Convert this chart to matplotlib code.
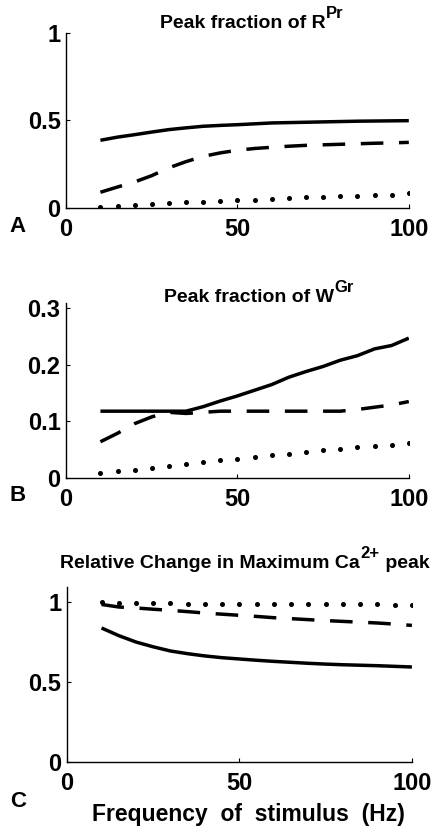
import numpy as np
import matplotlib
matplotlib.use("Agg")
import matplotlib.pyplot as plt

plt.rcParams['font.family'] = ['Liberation Sans', 'DejaVu Sans']
plt.rcParams['font.weight'] = 'bold'

# frequencia do estimulo (Hz)
freq = [10, 15, 20, 25, 30, 35, 40, 45, 50, 55, 60, 65, 70, 75, 80, 85, 90, 95, 100]

# painel A - fracao de pico de R^Pr
a_solid = [0.387, 0.405, 0.419, 0.434, 0.448, 0.458, 0.467, 0.472, 0.476, 0.481, 0.486,
           0.488, 0.490, 0.492, 0.494, 0.496, 0.497, 0.498, 0.499]
a_dash = [0.090, 0.120, 0.149, 0.185, 0.230, 0.265, 0.295, 0.315, 0.330, 0.340, 0.347,
          0.353, 0.358, 0.361, 0.364, 0.367, 0.370, 0.372, 0.375]
a_dot = [0.006, 0.013, 0.019, 0.023, 0.027, 0.032, 0.034, 0.038, 0.044, 0.046, 0.051,
         0.055, 0.061, 0.063, 0.069, 0.070, 0.076, 0.076, 0.084]

# painel B - fracao de pico de W^Gr
b_solid = [0.118, 0.118, 0.118, 0.118, 0.118, 0.118, 0.126, 0.136, 0.145, 0.155, 0.165,
           0.178, 0.188, 0.197, 0.208, 0.216, 0.228, 0.234, 0.247]
b_dash = [0.064, 0.079, 0.096, 0.108, 0.116, 0.114, 0.116, 0.118, 0.118, 0.118, 0.118,
          0.118, 0.118, 0.118, 0.118, 0.121, 0.125, 0.129, 0.135]
b_dot = [0.009, 0.012, 0.015, 0.018, 0.022, 0.025, 0.028, 0.031, 0.034, 0.037, 0.040,
         0.043, 0.046, 0.049, 0.051, 0.054, 0.056, 0.058, 0.061]

# painel C - mudanca relativa no pico maximo de Ca2+
c_solid = [0.838, 0.790, 0.750, 0.720, 0.694, 0.677, 0.663, 0.652, 0.644, 0.636, 0.629,
           0.623, 0.617, 0.612, 0.608, 0.605, 0.602, 0.598, 0.594]
c_dash = [0.985, 0.969, 0.963, 0.955, 0.948, 0.940, 0.931, 0.924, 0.917, 0.910, 0.902,
          0.896, 0.890, 0.884, 0.879, 0.874, 0.869, 0.862, 0.854]
c_dot = [1.000, 0.995, 0.993, 0.992, 0.991, 0.990, 0.990, 0.989, 0.989, 0.988, 0.988,
         0.987, 0.987, 0.986, 0.986, 0.985, 0.985, 0.984, 0.983]

paineis = [
    dict(rect=[0.150, 0.7485, 0.777, 0.2116], ys=(a_solid, a_dash, a_dot), ylim=(0, 1),
         yticks=[0, 0.5, 1], yticklabels=['0', '0.5', '1'],
         titulo='Peak fraction of R', sup='Pr', resto='', tx=0.274, ty=1.03,
         letra='A', ly=-0.14),
    dict(rect=[0.150, 0.422, 0.777, 0.2116], ys=(b_solid, b_dash, b_dot), ylim=(0, 0.309),
         yticks=[0, 0.1, 0.2, 0.3], yticklabels=['0', '0.1', '0.2', '0.3'],
         titulo='Peak fraction of W', sup='Gr', resto='', tx=0.286, ty=1.006,
         letra='B', ly=-0.13),
    dict(rect=[0.152, 0.0786, 0.782, 0.2116], ys=(c_solid, c_dash, c_dot), ylim=(0, 1.094),
         yticks=[0, 0.5, 1], yticklabels=['0', '0.5', '1'],
         titulo='Relative Change in Maximum Ca', sup='2+', resto=' peak', tx=-0.02, ty=1.109,
         letra='C', ly=-0.26),
]

fig = plt.figure(figsize=(4.41, 8.27), dpi=100)

for p in paineis:
    ax = fig.add_axes(p['rect'])
    solido, tracejado, pontilhado = p['ys']
    ax.plot(freq, solido, color='black', lw=2.5, solid_capstyle='butt')
    ax.plot(freq, tracejado, color='black', lw=2.5, dashes=(6.5, 4.5))
    ax.plot(freq, pontilhado, color='black', ls='none', marker='o', ms=2.6)
    ax.set_xlim(0, 100)
    ax.set_ylim(*p['ylim'])
    ax.set_xticks([0, 50, 100])
    ax.set_xticklabels(['0', '50', '100'])
    ax.set_yticks(p['yticks'])
    ax.set_yticklabels(p['yticklabels'])
    ax.spines['top'].set_visible(False)
    ax.spines['right'].set_visible(False)
    ax.spines['left'].set_linewidth(1.0)
    ax.spines['bottom'].set_linewidth(1.0)
    ax.tick_params(direction='in', length=3, width=0.8, labelsize=17, pad=4)
    ax.tick_params(axis='x', pad=7)
    for lbl in ax.get_xticklabels() + ax.get_yticklabels():
        lbl.set_fontweight('bold')
    # titulo em tres partes: texto, expoente e o resto
    t = ax.text(p['tx'], p['ty'], p['titulo'], transform=ax.transAxes, ha='left',
                va='baseline', fontsize=14, fontweight='bold')
    s = ax.annotate(p['sup'], xy=(1, 0), xycoords=t, xytext=(0.5, 8),
                    textcoords='offset points', ha='left', va='bottom',
                    fontsize=12, fontweight='bold')
    if p['resto']:
        ax.annotate(p['resto'], xy=(1, 0), xycoords=(s, t), xytext=(0, 0),
                    textcoords='offset points', ha='left', va='bottom',
                    fontsize=14, fontweight='bold')
    ax.text(-0.165, p['ly'], p['letra'], transform=ax.transAxes, ha='left',
            va='baseline', fontsize=16, fontweight='bold')

ax.set_xlabel('Frequency  of  stimulus  (Hz)', fontsize=16.5, fontweight='bold')
ax.xaxis.set_label_coords(0.525, -0.235)

fig.savefig('out.png', dpi=100)
